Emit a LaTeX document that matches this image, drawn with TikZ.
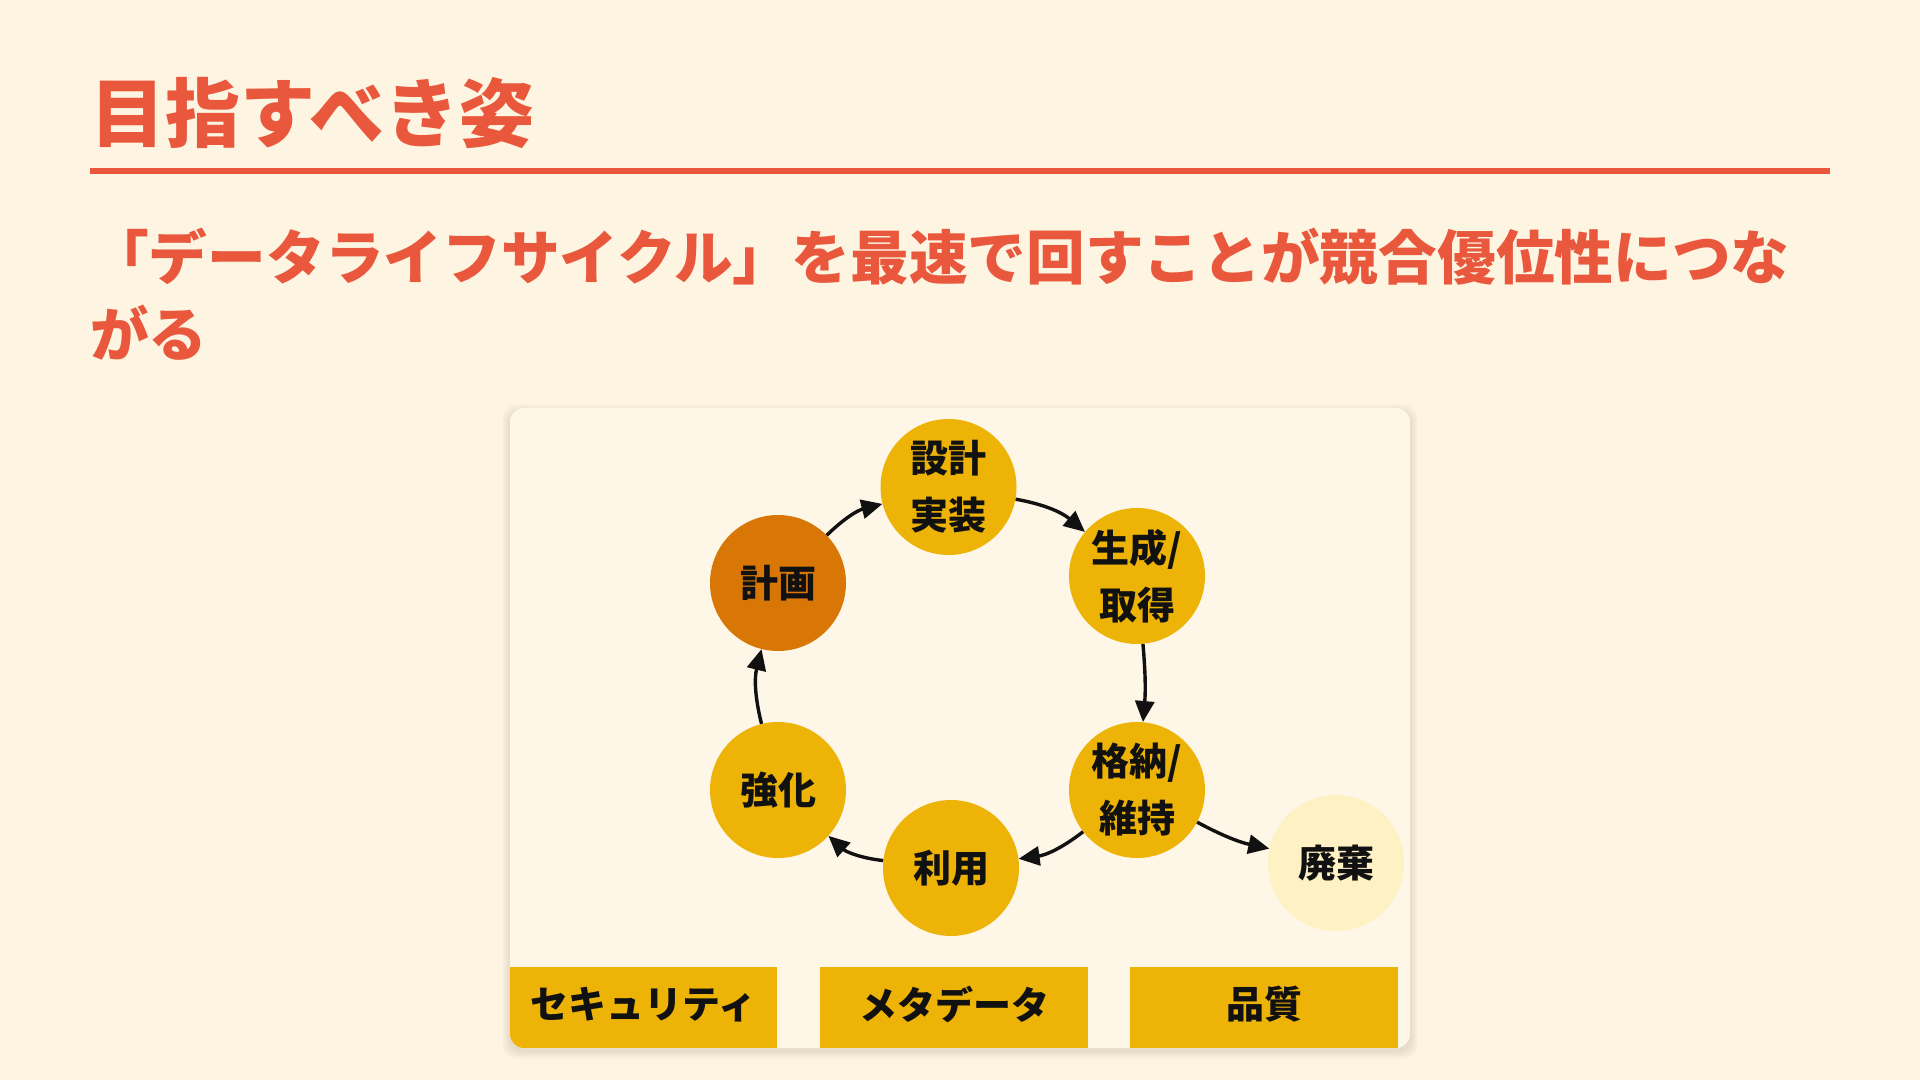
\documentclass[tikz,border=0pt]{standalone}
\usepackage{fontspec}
\newfontfamily\jp{Noto Sans CJK JP}
\usetikzlibrary{arrows.meta}
\definecolor{bg}{HTML}{FDF4E1}
\definecolor{cardbg}{HTML}{FEF6E6}
\definecolor{accent}{HTML}{E9573C}
\definecolor{gold}{HTML}{EDB306}
\definecolor{amberdark}{HTML}{D97706}
\definecolor{pale}{HTML}{FEF1C4}
\definecolor{ink}{HTML}{111111}
\begin{document}
\begin{tikzpicture}[x=1pt,y=1pt,
  stage/.style={circle, minimum size=136pt, inner sep=0pt, fill=gold,
    font=\jp\bfseries\fontsize{38}{57}\selectfont, align=center, text=ink},
  flow/.style={-{Triangle[length=21pt,width=19pt]}, line width=3.4pt, draw=ink},
  pillar/.style={rectangle, minimum width=268pt, minimum height=81pt, inner sep=0pt,
    fill=gold, text=ink, font=\jp\bfseries\fontsize{38}{46}\selectfont},
  headline/.style={anchor=base west, inner sep=0pt, text=accent}]
% page
\fill[bg] (0,0) rectangle (1920,1080);
\useasboundingbox (0,0) rectangle (1920,1080);
% title
\node[headline, font=\jp\bfseries\fontsize{75}{90}\selectfont] (title) at (90,938.5) {目指すべき姿};
\draw[accent, line width=6pt] (90,908.5) -- (1830,908.5);
\node[headline, font=\jp\bfseries\fontsize{58.7}{77}\selectfont] (sub1) at (90,800.5)
  {「データライフサイクル」を最速で回すことが競合優位性につな};
\node[headline, font=\jp\bfseries\fontsize{58.7}{77}\selectfont] (sub2) at (90,723.5) {がる};
% card shadow
\foreach \i in {1,...,8}{
  \fill[black, opacity=0.013, rounded corners=14pt]
    (510-\i,29-\i) rectangle (1410+\i,672+\i-4);
}
\fill[cardbg, rounded corners=14pt] (510,32) rectangle (1410,672);
% bottom pillars
\begin{scope}
  \clip[rounded corners=14pt] (510,32) rectangle (1410,672);
  \node[pillar, minimum width=267pt] (sec) at (643.5,72.5) {\raisebox{10pt}{セキュリティ}};
  \node[pillar] (meta) at (954,72.5) {\raisebox{10pt}{メタデータ}};
  \node[pillar] (qual) at (1264,72.5) {\raisebox{10pt}{品質}};
\end{scope}
% lifecycle stages
\node[stage, fill=amberdark] (plan) at (778,497) {計画};
\node[stage] (design) at (948.5,593) {設計\\実装};
\node[stage] (gen) at (1137,504) {生成/\\取得};
\node[stage] (store) at (1137,290) {格納/\\維持};
\node[stage] (use) at (951,212) {利用};
\node[stage] (enh) at (778,290) {強化};
\node[stage, fill=pale] (disp) at (1336,217) {廃棄};
% connectors
\draw[flow] (plan) to[bend left=15] (design);
\draw[flow] (design) to[bend left=15] (gen);
\draw[flow] (gen) to[bend left=5] (store);
\draw[flow] (store) to[bend left=15] (use);
\draw[flow] (use) to[bend left=18] (enh);
\draw[flow] (enh) to[bend left=14] (plan);
\draw[flow] (store) to[bend right=8] (disp);
\end{tikzpicture}
\end{document}
